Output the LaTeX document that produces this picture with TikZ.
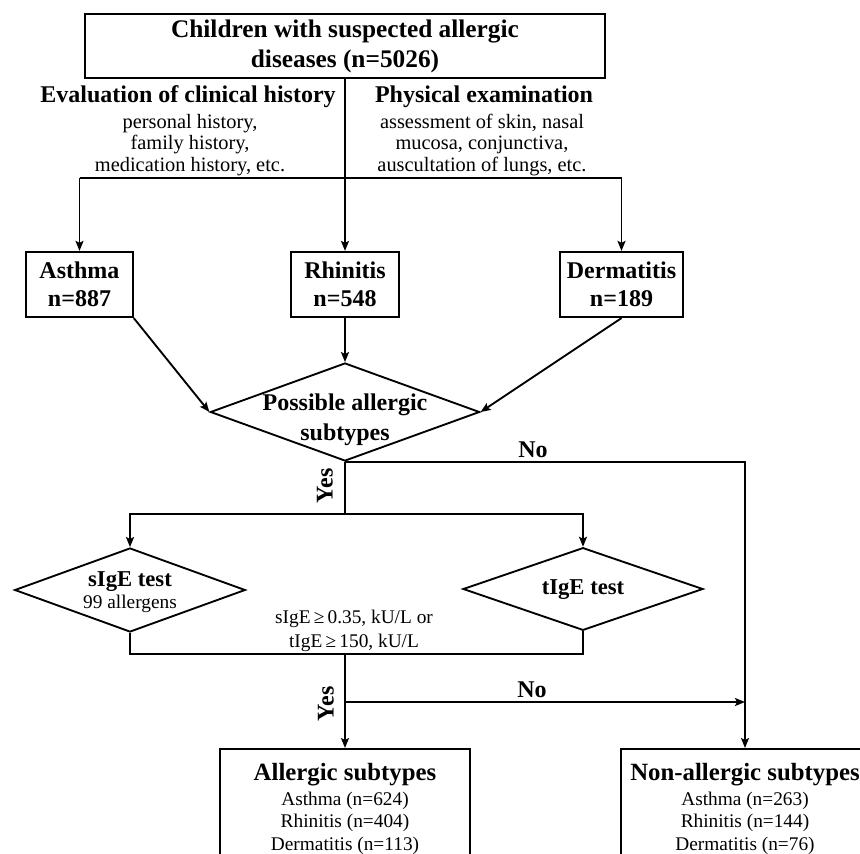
\documentclass[tikz,border=0pt]{standalone}
\usepackage{fontspec}
\setmainfont{Liberation Serif}
\usetikzlibrary{arrows.meta, shapes.geometric}

\newcommand{\hdfont}{\fontsize{18}{21}\selectfont\bfseries}
\newcommand{\notefont}{\fontsize{15.3}{16}\selectfont}
\newcommand{\cntfont}{\fontsize{14.5}{17}\selectfont\mdseries}

\begin{document}
\begin{tikzpicture}[x=0.75pt, y=-0.75pt,
  >={Stealth[length=7.5pt, width=6pt, inset=1.5pt]},
  line width=1.4pt,
  box/.style={draw, align=center, inner sep=2pt, font=\hdfont},
  decision/.style={draw, diamond, inner sep=0pt},
  lbl/.style={font=\hdfont, inner sep=0pt},
  note/.style={font=\notefont, align=center, inner sep=0pt}]

% Page
\clip (0,0) rectangle (860,853);

% Title
\node[box, font=\fontsize{19}{22.5}\selectfont\bfseries,
      minimum width=390pt, minimum height=48pt] (title) at (345,46)
  {Children with suspected allergic\\diseases (n=5026)};

% --- Work-up ---
\node[lbl] (histhd) at (188,97) {Evaluation of clinical history};
\node[note] (histtxt) at (190,145)
  {personal history,\\family history,\\medication history, etc.};
\node[lbl] (examhd) at (484,97) {Physical examination};
\node[note] (examtxt) at (482,145)
  {assessment of skin, nasal\\mucosa, conjunctiva,\\auscultation of lungs, etc.};

% --- Diagnoses ---
\node[box, minimum width=80pt, minimum height=49pt] (asthma) at (79.5,284.5) {Asthma\\n=887};
\node[box, minimum width=81pt, minimum height=49pt] (rhin) at (345,284.5) {Rhinitis\\n=548};
\node[box, minimum width=92pt, minimum height=49pt] (derm) at (621.5,284.5) {Dermatitis\\n=189};

% --- Decisions ---
\node[decision, minimum width=202pt, minimum height=73.5pt] (poss) at (345,412) {};
\node[lbl, align=center, font=\fontsize{18}{22.5}\selectfont\bfseries] (posstxt) at (345,420)
  {Possible allergic\\subtypes};

\node[decision, minimum width=173pt, minimum height=63pt] (sige) at (130,590) {};
\node[lbl, align=center, font=\fontsize{17}{17}\selectfont\bfseries] (sigetxt) at (130,592)
  {sIgE test\\{\cntfont 99 allergens}};

\node[decision, minimum width=180pt, minimum height=62pt] (tige) at (583,589) {};
\node[lbl, font=\fontsize{17}{20}\selectfont\bfseries] (tigetxt) at (583,590) {tIgE test};

\node[note, font=\cntfont, align=center] (crit) at (354,631)
  {sIgE\,≥\,0.35, kU/L or\\[1pt]tIgE\,≥\,150, kU/L};

% --- Outcomes ---
\node[box, anchor=north, minimum width=187pt, minimum height=90pt,
      font=\cntfont] (allerg) at (345,748)
  {{\fontsize{18.6}{21}\selectfont\bfseries Allergic subtypes}\\[1.5pt]
   Asthma (n=624)\\Rhinitis (n=404)\\Dermatitis (n=113)};
\node[box, anchor=north, minimum width=186pt, minimum height=90pt,
      font=\cntfont] (nonall) at (745,748)
  {{\fontsize{18.6}{21}\selectfont\bfseries Non-allergic subtypes}\\[1.5pt]
   Asthma (n=263)\\Rhinitis (n=144)\\Dermatitis (n=76)};

% --- Connectors ---
\coordinate (split) at (345,178);
\draw[->] (title) -- (rhin);
\draw (split -| asthma) -- (split -| derm);
\draw[->] (split -| asthma) -- (asthma);
\draw[->] (split -| derm) -- (derm);

\draw[->] (asthma.south east) -- (poss.west);
\draw[->] (rhin) -- (poss);
\draw[->] (derm.south) -- (poss.east);

% no allergy suspected
\draw[->] (poss.south) -| (nonall);
\node[lbl] (no1) at (533,450) {No};

% allergy suspected
\coordinate (split2) at (345,514);
\draw (poss.south) -- (split2);
\node[lbl, rotate=90] (yes1) at (325,486) {Yes};
\draw[->] (split2) -| (sige);
\draw[->] (split2) -| (tige);

\coordinate (join) at (345,654);
\draw (sige.south) |- (join) -| (tige.south);
\draw[->] (join) -- (allerg);

\coordinate (nofork) at (345,702);
\draw[->] (nofork) -- (nofork -| nonall);
\node[lbl] (no2) at (532,690) {No};
\node[lbl, rotate=90] (yes2) at (326,704) {Yes};

\end{tikzpicture}
\end{document}
